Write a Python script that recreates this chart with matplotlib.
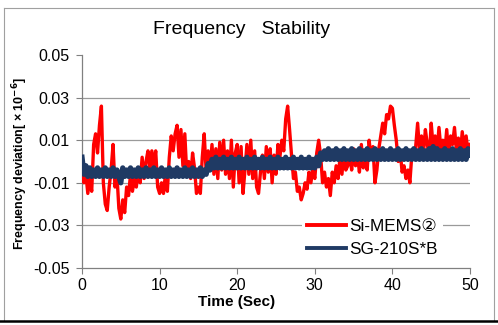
import numpy as np
import matplotlib
matplotlib.use("Agg")
import matplotlib.pyplot as plt
from matplotlib.lines import Line2D
from matplotlib import font_manager

plt.rcParams['font.family'] = ['Liberation Sans', 'DejaVu Sans', 'Noto Sans CJK JP']

# ---- data ----
time_step = 0.25
si_mems = [
    # 0 - 4.75
    -0.004, -0.010, -0.006, -0.015, -0.008, -0.014, 0.008, 0.013, 0.004, 0.017,
    0.026, -0.010, -0.020, -0.023, -0.012, -0.004, 0.008, -0.012, -0.006, -0.022,
    # 5 - 9.75
    -0.027, -0.018, -0.024, -0.012, -0.016, -0.006, -0.014, -0.008, -0.012, -0.004,
    -0.010, 0.002, -0.008, 0.000, 0.005, -0.004, 0.005, -0.002, 0.005, -0.012,
    # 10 - 14.75
    -0.015, -0.010, -0.015, -0.006, -0.014, 0.002, 0.012, 0.005, 0.013, 0.017,
    0.002, 0.015, -0.002, 0.013, -0.006, 0.000, -0.008, 0.004, -0.003, -0.015,
    # 15 - 19.75
    -0.012, -0.015, 0.002, 0.013, -0.005, 0.005, -0.004, 0.008, -0.006, 0.006,
    -0.008, 0.009, -0.004, 0.010, -0.006, 0.005, -0.008, 0.010, -0.012, 0.004,
    # 20 - 24.75
    0.008, -0.010, 0.007, -0.015, -0.004, 0.008, -0.006, 0.010, -0.008, 0.005,
    -0.012, -0.015, -0.005, 0.003, -0.008, 0.007, -0.005, 0.006, -0.010, 0.003,
    # 25 - 29.75
    -0.006, 0.008, 0.002, 0.010, 0.005, 0.020, 0.026, 0.015, 0.003, -0.008,
    -0.005, -0.014, -0.012, -0.018, -0.015, -0.010, -0.013, -0.005, -0.010, -0.003,
    # 30 - 34.75
    -0.008, 0.004, 0.010, 0.003, -0.010, -0.005, -0.012, -0.008, -0.016, -0.005,
    -0.010, -0.002, -0.008, 0.002, -0.006, 0.005, -0.004, -0.002, 0.003, -0.004,
    # 35 - 39.75
    0.006, -0.002, 0.003, -0.005, 0.008, -0.003, 0.004, -0.004, 0.010, 0.002,
    0.007, -0.010, -0.004, 0.006, 0.012, 0.018, 0.013, 0.022, 0.020, 0.026,
    # 40 - 44.75
    0.025, 0.017, 0.010, 0.000, 0.005, -0.005, -0.002, -0.008, -0.004, -0.010,
    0.003, 0.001, 0.007, 0.018, 0.005, 0.012, 0.004, 0.015, 0.008, 0.002,
    # 45 - 49.75
    0.018, 0.007, 0.012, 0.004, 0.016, 0.006, 0.010, 0.004, 0.015, 0.003,
    0.012, 0.008, 0.016, 0.005, 0.011, 0.003, 0.014, 0.006, 0.012, 0.004,
    # 50
    0.008,
]
sg_210 = [
    # 0 - 4.75
    0.002, -0.006, -0.002, -0.007, -0.003, -0.007, -0.004, -0.007, -0.003, -0.007,
    -0.004, -0.007, -0.003, -0.007, -0.004, -0.007, -0.003, -0.007, -0.004, -0.007,
    # 5 - 9.75
    -0.010, -0.003, -0.007, -0.004, -0.007, -0.003, -0.007, -0.004, -0.007, -0.003,
    -0.007, -0.004, -0.007, -0.003, -0.007, -0.004, -0.007, -0.003, -0.007, -0.004,
    # 10 - 14.75
    -0.007, -0.003, -0.007, -0.004, -0.007, -0.003, -0.007, -0.004, -0.007, -0.003,
    -0.007, -0.004, -0.007, -0.003, -0.007, -0.004, -0.007, -0.003, -0.007, -0.004,
    # 15 - 19.75
    -0.007, -0.003, -0.007, -0.004, -0.006, -0.001, -0.004, 0.001, -0.003, 0.002,
    -0.003, 0.001, -0.003, 0.002, -0.003, 0.001, -0.003, 0.002, -0.003, 0.001,
    # 20 - 24.75
    -0.003, 0.002, -0.003, 0.001, -0.003, 0.002, -0.003, 0.001, -0.003, 0.002,
    -0.003, 0.001, -0.003, 0.002, -0.003, 0.001, -0.003, 0.002, -0.003, 0.001,
    # 25 - 29.75
    -0.003, 0.002, -0.003, 0.001, -0.003, 0.002, -0.003, 0.001, -0.003, 0.002,
    -0.003, 0.001, -0.003, 0.002, -0.003, 0.001, -0.003, 0.002, -0.003, 0.001,
    # 30 - 34.75
    -0.003, 0.002, -0.002, 0.004, 0.001, 0.005, 0.001, 0.006, 0.001, 0.005,
    0.001, 0.006, 0.001, 0.005, 0.001, 0.006, 0.001, 0.005, 0.001, 0.006,
    # 35 - 39.75
    0.001, 0.005, 0.001, 0.006, 0.001, 0.005, 0.001, 0.006, 0.001, 0.005,
    0.001, 0.006, 0.001, 0.005, 0.001, 0.006, 0.001, 0.005, 0.001, 0.006,
    # 40 - 44.75
    0.001, 0.005, 0.001, 0.006, 0.001, 0.005, 0.001, 0.006, 0.001, 0.005,
    0.001, 0.006, 0.001, 0.005, 0.001, 0.006, 0.001, 0.005, 0.001, 0.006,
    # 45 - 49.75
    0.001, 0.007, 0.001, 0.006, 0.001, 0.005, 0.001, 0.006, 0.001, 0.005,
    0.001, 0.006, 0.001, 0.005, 0.001, 0.006, 0.001, 0.005, 0.001, 0.006,
    # 50
    0.003,
]
time = np.arange(len(si_mems)) * time_step
time_sg = np.arange(len(sg_210)) * time_step

y_ticks = [0.05, 0.03, 0.01, -0.01, -0.03, -0.05]
y_tick_labels = ['0.05', '0.03', '0.01', '-0.01', '-0.03', '-0.05']
x_ticks = [0, 10, 20, 30, 40, 50]
series_names = ['Si-MEMS\u2461', 'SG-210S*B']

# ---- figure ----
W, H = 498, 325
fig = plt.figure(figsize=(W / 100, H / 100), dpi=100)
ax = fig.add_axes([82 / W, 1 - 268 / H, (470 - 82) / W, (268 - 55) / H])

red = '#FF0000'
navy = '#1F3A64'
l1, = ax.plot(time, si_mems, color=red, lw=2.4, zorder=3)
l2, = ax.plot(time_sg, sg_210, color=navy, lw=3.8, zorder=4)

ax.set_xlim(0, 50)
ax.set_ylim(-0.05, 0.05)
ax.set_yticks(y_ticks)
ax.set_yticklabels(y_tick_labels)
ax.set_xticks(x_ticks)
ax.tick_params(axis='both', labelsize=11.5, color='#808080', length=4, width=0.8, direction='out')
ax.tick_params(axis='y', pad=5)
ax.tick_params(axis='x', pad=3)

for gy in [0.03, 0.01, -0.01, -0.03]:
    ax.axhline(gy, color='#9a9a9a', lw=0.9, zorder=1)

for s in ['top', 'right']:
    ax.spines[s].set_visible(False)
for s in ['left', 'bottom']:
    ax.spines[s].set_color('#808080')
    ax.spines[s].set_linewidth(0.9)

leg = ax.legend([l1, l2], series_names, loc='lower left',
                bbox_to_anchor=((302 - 82) / 388, (268 - 262) / 213),
                frameon=True, fancybox=False, fontsize=12.3,
                handlelength=2.3, handletextpad=0.15, labelspacing=0.45,
                borderpad=0.3, borderaxespad=0.0)
leg.get_frame().set_facecolor('white')
leg.get_frame().set_edgecolor('none')
leg.get_frame().set_alpha(1)
leg.set_zorder(5)
for h in leg.get_lines():
    h.set_linewidth(2.8)

fig.text(242 / W, 1 - 30 / H, 'Frequency   Stability', ha='center', va='center', fontsize=14)
fig.text(237 / W, 1 - 302 / H, 'Time (Sec)', ha='center', va='center', fontsize=11, fontweight='bold')

names = {f.name for f in font_manager.fontManager.ttflist}
if 'Liberation Sans Narrow' in names:
    yl_family, yl_size = ['Liberation Sans Narrow', 'DejaVu Sans'], 10.8
else:
    yl_family, yl_size = ['Liberation Sans', 'DejaVu Sans'], 9
fig.text(20 / W, 1 - 163 / H, 'Frequency deviation[ \u00d7 10$^{\\mathbf{-6}}$]', ha='center', va='center',
         rotation=90, fontsize=yl_size, fontweight='bold', family=yl_family)

# outer frame
fig.add_artist(Line2D([4 / W, 4 / W], [1 - 8 / H, 1 - 320 / H], color='#a0a0a0', lw=0.8))
fig.add_artist(Line2D([4 / W, 494 / W], [1 - 8 / H, 1 - 8 / H], color='#a0a0a0', lw=0.8))
fig.add_artist(Line2D([494 / W, 494 / W], [1 - 8 / H, 1 - 320 / H], color='#a0a0a0', lw=0.8))
fig.add_artist(Line2D([0, 1], [1 - 320.5 / H, 1 - 320.5 / H], color='black', lw=1.8))

fig.savefig('out.png', dpi=100)
